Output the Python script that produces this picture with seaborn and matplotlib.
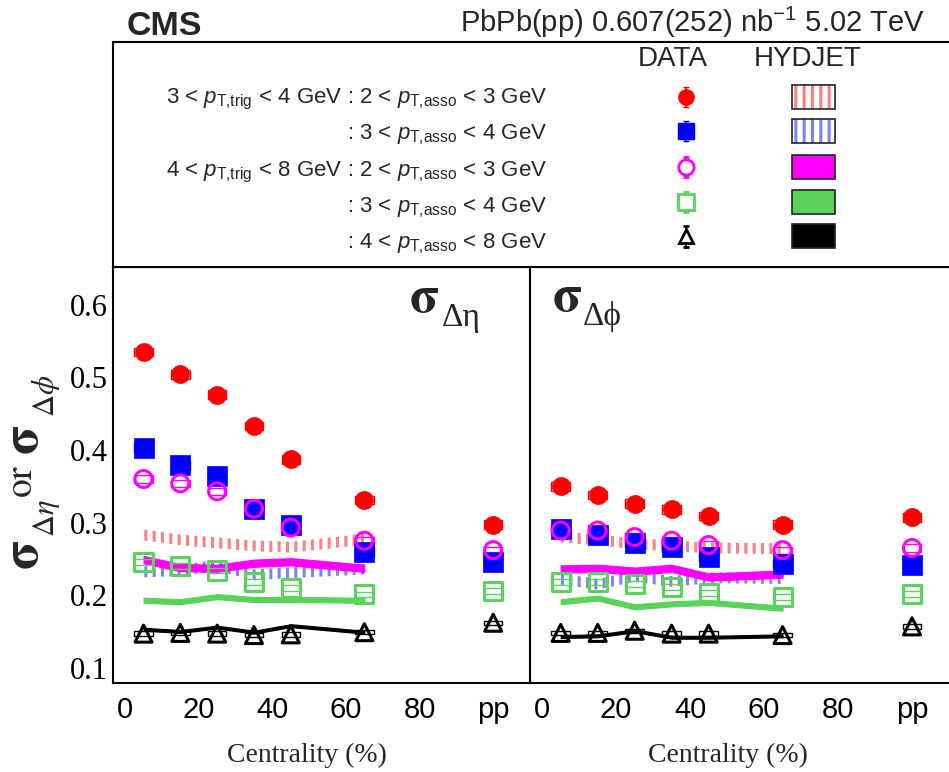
import matplotlib
matplotlib.use("Agg")
import matplotlib.pyplot as plt
from matplotlib.patches import Rectangle
from matplotlib.ticker import MultipleLocator, FixedLocator, FixedFormatter
import numpy as np
import pandas as pd
import seaborn as sns

sns.set_theme(style="white")
plt.rcParams["font.family"] = ["Liberation Sans", "DejaVu Sans"]
plt.rcParams["mathtext.fontset"] = "custom"
plt.rcParams["mathtext.rm"] = "Liberation Sans"
plt.rcParams["mathtext.it"] = "Liberation Sans:italic"
plt.rcParams["mathtext.bf"] = "Liberation Sans:bold"
plt.rcParams["axes.edgecolor"] = "black"
plt.rcParams["hatch.linewidth"] = 2.2

# centrality bin centres (%), last entry is the pp reference
X_DATA = [5, 15, 25, 35, 45, 65, 100]
X_HYD = [5, 15, 25, 35, 45, 65]
X_TICKS = [0, 20, 40, 60, 80, 100]
X_TICK_LABELS = ["0", "20", "40", "60", "80", "pp"]

# data, sigma_deta
deta_t34_a23 = [0.535, 0.504, 0.476, 0.433, 0.387, 0.331, 0.297]
deta_t34_a34 = [0.403, 0.379, 0.364, 0.319, 0.297, 0.260, 0.246]
deta_t48_a23 = [0.360, 0.354, 0.343, 0.319, 0.293, 0.275, 0.262]
deta_t48_a34 = [0.246, 0.240, 0.234, 0.218, 0.210, 0.201, 0.206]
deta_t48_a48 = [0.147, 0.148, 0.147, 0.145, 0.146, 0.149, 0.162]

# data, sigma_dphi
dphi_t34_a23 = [0.350, 0.338, 0.326, 0.318, 0.309, 0.297, 0.307]
dphi_t34_a34 = [0.291, 0.283, 0.272, 0.266, 0.253, 0.243, 0.242]
dphi_t48_a23 = [0.289, 0.289, 0.280, 0.275, 0.269, 0.262, 0.265]
dphi_t48_a34 = [0.218, 0.218, 0.215, 0.211, 0.203, 0.197, 0.202]
dphi_t48_a48 = [0.148, 0.148, 0.151, 0.147, 0.147, 0.145, 0.157]

# systematic half-heights of the data boxes
syst = [0.006, 0.006, 0.005, 0.004, 0.003]

# HYDJET bands (centre values) and half widths
hyd_deta_t34_a23 = [0.283, 0.276, 0.272, 0.268, 0.266, 0.277]
hyd_deta_t34_a34 = [0.232, 0.234, 0.241, 0.228, 0.231, 0.236]
hyd_deta_t48_a23 = [0.249, 0.238, 0.237, 0.244, 0.246, 0.237]
hyd_deta_t48_a34 = [0.193, 0.191, 0.198, 0.194, 0.194, 0.193]
hyd_deta_t48_a48 = [0.153, 0.150, 0.156, 0.149, 0.158, 0.149]

hyd_dphi_t34_a23 = [0.280, 0.276, 0.271, 0.268, 0.265, 0.264]
hyd_dphi_t34_a34 = [0.222, 0.215, 0.226, 0.219, 0.224, 0.223]
hyd_dphi_t48_a23 = [0.236, 0.237, 0.233, 0.237, 0.225, 0.229]
hyd_dphi_t48_a34 = [0.191, 0.196, 0.184, 0.188, 0.190, 0.182]
hyd_dphi_t48_a48 = [0.143, 0.144, 0.151, 0.142, 0.142, 0.144]

hyd_half = [0.0075, 0.0075, 0.005, 0.0035, 0.002]

# legend text
trig_labels = [r"3 < $p_{\mathrm{T{,}trig}}$ < 4 GeV", "", r"4 < $p_{\mathrm{T{,}trig}}$ < 8 GeV", "", ""]
asso_labels = [r": 2 < $p_{\mathrm{T{,}asso}}$ < 3 GeV", r": 3 < $p_{\mathrm{T{,}asso}}$ < 4 GeV",
               r": 2 < $p_{\mathrm{T{,}asso}}$ < 3 GeV", r": 3 < $p_{\mathrm{T{,}asso}}$ < 4 GeV",
               r": 4 < $p_{\mathrm{T{,}asso}}$ < 8 GeV"]

STYLES = [
    dict(color="#ff0000", marker="o", open=False, s=170, band="#ff8080", hatch="||"),
    dict(color="#0000ff", marker="s", open=False, s=190, band="#8080ff", hatch="||"),
    dict(color="#ff00ff", marker="o", open=True, s=150, band="#ff00ff", hatch=None),
    dict(color="#5ad35a", marker="s", open=True, s=170, band="#5ad35a", hatch=None),
    dict(color="#000000", marker="^", open=True, s=150, band="#000000", hatch=None),
]

W, H = 949, 772
fig = plt.figure(figsize=(W / 100, H / 100), dpi=100)

ax1 = fig.add_axes([113 / W, 1 - 683 / H, 417 / W, 416 / H])
ax2 = fig.add_axes([530 / W, 1 - 683 / H, 419 / W, 416 / H], sharey=ax1)
axl = fig.add_axes([113 / W, 1 - 267 / H, 1 - 113 / W, 225 / H])


def draw_panel(ax, data_sets, hyd_sets):
    for st, hv, hh in zip(STYLES, hyd_sets, hyd_half):
        lo = np.array(hv) - hh
        hi = np.array(hv) + hh
        if st["hatch"]:
            ax.fill_between(X_HYD, lo, hi, facecolor="none", edgecolor=st["band"],
                            hatch=st["hatch"], linewidth=0, zorder=1)
        else:
            ax.fill_between(X_HYD, lo, hi, facecolor=st["band"], edgecolor=st["band"],
                            linewidth=0.8, zorder=1)
    for st, vals, sy in zip(STYLES, data_sets, syst):
        v = np.array(vals)
        ax.bar(X_DATA, 2 * sy, bottom=v - sy, width=5, fill=False,
               edgecolor=st["color"], linewidth=1, zorder=2)
        df = pd.DataFrame({"cent": X_DATA, "sigma": vals})
        if st["open"]:
            sns.scatterplot(data=df, x="cent", y="sigma", ax=ax, marker=st["marker"],
                            s=st["s"], color=st["color"], facecolor="none",
                            edgecolor=st["color"], linewidth=2.2, zorder=4, legend=False)
        else:
            sns.scatterplot(data=df, x="cent", y="sigma", ax=ax, marker=st["marker"],
                            s=st["s"], color=st["color"], edgecolor=st["color"],
                            linewidth=0.5, zorder=3, legend=False)
    ax.set_xlim(-3.3, 110)
    ax.set_ylim(0.079, 0.652)
    ax.xaxis.set_major_locator(FixedLocator(X_TICKS))
    ax.xaxis.set_major_formatter(FixedFormatter(X_TICK_LABELS))
    ax.xaxis.set_minor_locator(MultipleLocator(5))
    ax.yaxis.set_major_locator(MultipleLocator(0.1))
    ax.yaxis.set_minor_locator(MultipleLocator(0.02))
    ax.tick_params(which="both", direction="in", width=1.3, colors="black")
    ax.tick_params(which="major", length=8.5)
    ax.tick_params(which="minor", length=4.3)
    ax.tick_params(axis="x", which="major", pad=9, labelsize=21)
    ax.tick_params(axis="y", which="major", pad=4, labelsize=22)
    for sp in ax.spines.values():
        sp.set_linewidth(1.5)
    ax.set_xlabel("")
    ax.set_ylabel("")


draw_panel(ax1, [deta_t34_a23, deta_t34_a34, deta_t48_a23, deta_t48_a34, deta_t48_a48],
           [hyd_deta_t34_a23, hyd_deta_t34_a34, hyd_deta_t48_a23, hyd_deta_t48_a34, hyd_deta_t48_a48])
draw_panel(ax2, [dphi_t34_a23, dphi_t34_a34, dphi_t48_a23, dphi_t48_a34, dphi_t48_a48],
           [hyd_dphi_t34_a23, hyd_dphi_t34_a34, hyd_dphi_t48_a23, hyd_dphi_t48_a34, hyd_dphi_t48_a48])

ax2.tick_params(axis="y", labelleft=False)
ax2.spines["right"].set_visible(False)
ax1.spines["right"].set_visible(False)

for lbl in ax1.get_yticklabels():
    lbl.set_family(["Liberation Serif"])
for ax in (ax1, ax2):
    for lbl in ax.get_xticklabels():
        lbl.set_family(["Liberation Sans"])

# panel labels
serif = ["Liberation Serif", "DejaVu Serif"]
ax1.text(0.710, 0.892, r"$\mathbf{\sigma}$", transform=ax1.transAxes, fontsize=38,
         math_fontfamily="stix", va="baseline", ha="left")
ax1.text(0.789, 0.858, "Δη", transform=ax1.transAxes, fontsize=24,
         family=serif, va="baseline", ha="left")
ax2.text(0.053, 0.894, r"$\mathbf{\sigma}$", transform=ax2.transAxes, fontsize=38,
         math_fontfamily="stix", va="baseline", ha="left")
ax2.text(0.126, 0.861, "Δϕ", transform=ax2.transAxes, fontsize=24,
         family=serif, va="baseline", ha="left")

# axis titles
fig.text(307 / W, 1 - 762 / H, "Centrality (%)", family=serif, fontsize=20,
         ha="center", va="baseline")
fig.text(728 / W, 1 - 762 / H, "Centrality (%)", family=serif, fontsize=20,
         ha="center", va="baseline")

# y title built from pieces (rotated)
ytitle = [
    (r"$\mathbf{\sigma}$", 24, 555, 38, "stix"),
    (r"$\Delta\eta$", 46, 518, 22, "stix"),
    (r"$\mathrm{or}$", 22, 481, 27, "stix"),
    (r"$\mathbf{\sigma}$", 24, 440, 38, "stix"),
    (r"$\Delta\phi$", 46, 396, 22, "stix"),
]
for txt, px, py, fs, mf in ytitle:
    fig.text(px / W, 1 - py / H, txt, fontsize=fs, math_fontfamily=mf,
             rotation=90, ha="center", va="center")

# header
fig.text(127 / W, 1 - 35 / H, "CMS", fontsize=24.5, fontweight="bold", va="baseline")
fig.text(925 / W, 1 - 32 / H, r"PbPb(pp) 0.607(252) nb$^{\mathrm{-1}}$ 5.02 TeV",
         fontsize=21, ha="right", va="baseline")

# legend box
axl.set_xlim(0, 1)
axl.set_ylim(0, 1)
axl.set_xticks([])
axl.set_yticks([])
for sp in axl.spines.values():
    sp.set_linewidth(1.5)
axl.spines["right"].set_visible(False)

row_marker_y = [0.756, 0.604, 0.444, 0.289, 0.136]
row_text_y = [0.729, 0.569, 0.404, 0.244, 0.084]
axl.text(0.669, 0.924, "DATA", fontsize=20, ha="center", va="center")
axl.text(0.831, 0.924, "HYDJET", fontsize=20, ha="center", va="center")
for st, ym, yt, tl, al in zip(STYLES, row_marker_y, row_text_y, trig_labels, asso_labels):
    if tl:
        axl.text(0.275, yt, tl, fontsize=16, ha="right", va="baseline")
    axl.text(0.280, yt, al, fontsize=16, ha="left", va="baseline")
    axl.errorbar([0.685], [ym], yerr=0.045, fmt=st["marker"], ms=11 if st["marker"] != "^" else 10,
                 color=st["color"], mfc="white" if st["open"] else st["color"],
                 mec=st["color"], mew=2 if st["open"] else 1, capsize=2, elinewidth=1.2)
    bx, bw, bh = 0.812, 0.0514, 0.107
    if st["hatch"]:
        axl.add_patch(Rectangle((bx, ym - bh / 2), bw, bh, facecolor="white",
                                edgecolor=st["band"], hatch=st["hatch"], linewidth=0))
        axl.add_patch(Rectangle((bx, ym - bh / 2), bw, bh, fill=False,
                                edgecolor="#222222", linewidth=1.2))
    else:
        axl.add_patch(Rectangle((bx, ym - bh / 2), bw, bh, facecolor=st["band"],
                                edgecolor="#222222", linewidth=1.2))

fig.savefig("out.png", dpi=100)
